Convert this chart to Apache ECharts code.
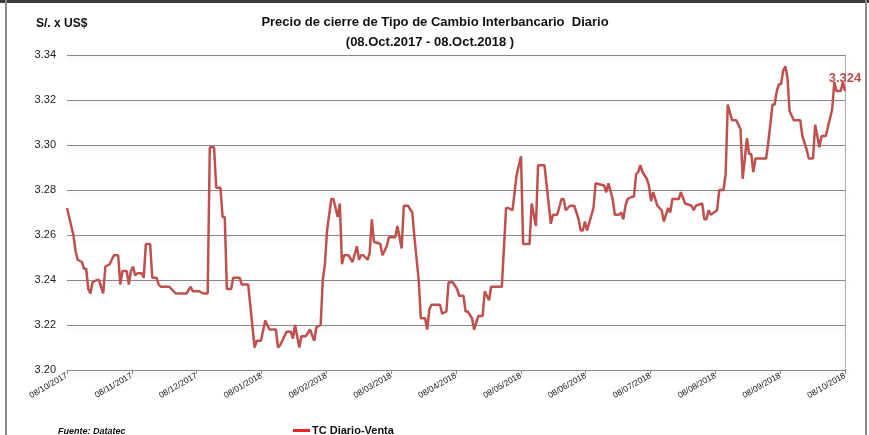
<!DOCTYPE html>
<html><head><meta charset="utf-8">
<script src="https://cdn.jsdelivr.net/npm/echarts@6/dist/echarts.min.js"></script>
<style>html,body{margin:0;padding:0;background:#fff}#c{width:869px;height:435px}</style>
</head><body><div id="c"></div>
<script>
// days elapsed since 08/10/2017
const dias = [
0,2,3,4,5,7,8,9,10,11,
12,14,15,17,18,20,22,24,25,26,
28,29,30,31,32,33,35,36,37,39,
40,42,43,44,48,51,52,56,58,59,
62,64,66,67,69,70,72,73,74,75,
77,78,81,82,85,88,89,91,93,95,
98,99,100,103,105,106,107,109,110,112,
114,116,117,119,120,121,122,124,125,127,
128,129,130,132,134,136,137,138,139,141,
142,143,144,147,148,150,151,154,155,157,
158,160,162,163,165,166,168,169,170,171,
175,176,178,179,181,183,184,186,187,188,
190,191,193,195,196,198,199,203,204,206,
207,209,211,213,214,217,218,220,221,224,
227,228,230,232,233,234,236,238,240,241,
242,243,244,247,248,252,253,254,256,257,
259,260,261,262,263,265,266,267,268,269,
270,272,273,274,275,277,279,280,282,283,
284,287,288,290,293,294,295,298,299,300,
301,302,305,306,308,309,310,312,314,316,
317,319,320,321,322,323,328,329,331,332,
333,334,335,336,337,338,339,341,344,345,
347,348,350,351,353,354,356,359,360,361,
363,364,365
];
const valores = [
3.272,3.264,3.260,3.253,3.249,3.248,3.245,3.245,3.236,3.234,
3.239,3.240,3.240,3.234,3.246,3.247,3.251,3.251,3.238,3.244,
3.244,3.238,3.244,3.246,3.242,3.243,3.243,3.241,3.256,3.256,
3.241,3.241,3.238,3.237,3.237,3.234,3.234,3.234,3.237,3.235,
3.235,3.234,3.234,3.299,3.299,3.281,3.281,3.268,3.268,3.236,
3.236,3.241,3.241,3.238,3.238,3.210,3.213,3.213,3.222,3.218,
3.218,3.210,3.211,3.217,3.217,3.214,3.220,3.210,3.215,3.215,
3.218,3.213,3.219,3.220,3.240,3.247,3.262,3.276,3.276,3.268,
3.274,3.247,3.251,3.251,3.248,3.255,3.249,3.251,3.251,3.249,
3.252,3.267,3.257,3.256,3.251,3.255,3.259,3.259,3.264,3.254,
3.273,3.273,3.270,3.259,3.240,3.223,3.223,3.218,3.227,3.229,
3.229,3.225,3.226,3.239,3.239,3.236,3.233,3.233,3.226,3.226,
3.223,3.218,3.224,3.224,3.235,3.231,3.237,3.237,3.237,3.272,
3.272,3.271,3.287,3.295,3.256,3.256,3.274,3.264,3.291,3.291,
3.265,3.269,3.269,3.276,3.276,3.271,3.273,3.273,3.267,3.262,
3.262,3.266,3.262,3.272,3.283,3.282,3.279,3.283,3.276,3.269,
3.269,3.270,3.267,3.273,3.276,3.277,3.277,3.287,3.288,3.291,
3.288,3.285,3.282,3.275,3.279,3.273,3.271,3.266,3.272,3.270,
3.276,3.276,3.279,3.274,3.273,3.271,3.273,3.274,3.267,3.267,
3.271,3.269,3.271,3.280,3.280,3.287,3.318,3.311,3.311,3.307,
3.285,3.303,3.296,3.296,3.288,3.294,3.294,3.301,3.318,3.318,
3.324,3.327,3.327,3.333,3.335,3.330,3.315,3.311,3.311,3.304,
3.298,3.294,3.294,3.309,3.299,3.304,3.304,3.316,3.328,3.324,
3.324,3.328,3.324
];
const etiquetasX = ['08/10/2017','08/11/2017','08/12/2017','08/01/2018','08/02/2018','08/03/2018','08/04/2018','08/05/2018','08/06/2018','08/07/2018','08/08/2018','08/09/2018','08/10/2018'];
const etiquetaFinal = '3.324';
const nombreSerie = 'TC Diario-Venta';

const FONT = "'Liberation Sans Narrow','Liberation Sans',sans-serif";
const ROJO = '#c0504d';
const puntos = dias.map((d, i) => [d * 12 / 365, valores[i]]);
const ultimo = puntos[puntos.length - 1];

const chart = echarts.init(document.getElementById('c'), null, {renderer: 'canvas'});
chart.setOption({
  animation: false,
  backgroundColor: '#fff',
  grid: {left: 67, right: 24, top: 55, bottom: 65, containLabel: false},
  legend: {
    left: 288, top: 420,
    itemWidth: 17, itemHeight: 3, itemGap: 10,
    data: [{name: nombreSerie, icon: 'rect', itemStyle: {color: '#ee2222'}}],
    textStyle: {fontFamily: FONT, fontWeight: 'bold', fontSize: 11, color: '#111', padding: [0,0,0,-3]}
  },
  xAxis: {
    type: 'value', min: 0, max: 12, interval: 1,
    axisLine: {show: true, lineStyle: {color: '#888', width: 1}},
    axisTick: {show: true, length: 4, lineStyle: {color: '#888'}},
    splitLine: {show: false},
    axisLabel: {formatter: v => etiquetasX[Math.round(v)], rotate: 30, fontSize: 8.5, color: '#222', fontFamily: FONT, margin: 5}
  },
  yAxis: [{
    type: 'value', min: 3.20, max: 3.34, interval: 0.02,
    axisLine: {show: false}, axisTick: {show: false},
    axisLabel: {formatter: v => v.toFixed(2), fontSize: 11, color: '#222', fontFamily: FONT, margin: 11},
    splitLine: {show: true, lineStyle: {color: '#888', width: 1, shadowColor: 'rgba(175,190,220,0.55)', shadowBlur: 5, shadowOffsetY: 3}}
  }, {
    type: 'value', position: 'right', min: 3.20, max: 3.34, interval: 0.02,
    axisLine: {show: true, lineStyle: {color: '#9a9a9a', type: 'dotted', width: 1}},
    axisTick: {show: false}, axisLabel: {show: false}, splitLine: {show: false}
  }],
  series: [{
    name: nombreSerie, type: 'line', data: puntos,
    showSymbol: false, symbol: 'none',
    lineStyle: {color: ROJO, width: 2.5},
    itemStyle: {color: ROJO},
    markPoint: {
      symbol: 'circle', symbolSize: 1, itemStyle: {color: 'rgba(0,0,0,0)'},
      data: [{coord: ultimo}],
      label: {show: true, position: 'top', distance: 6, formatter: etiquetaFinal, color: ROJO, fontWeight: 'bold', fontSize: 13, fontFamily: FONT}
    }
  }],
  graphic: [
    {type: 'rect', shape: {x: 0, y: 0, width: 869, height: 3}, style: {fill: '#3c3c3c'}, silent: true},
    {type: 'rect', shape: {x: 5, y: 0, width: 2, height: 435}, style: {fill: '#8a8a8a'}, silent: true},
    {type: 'rect', shape: {x: 865, y: 0, width: 2, height: 435}, style: {fill: '#8a8a8a'}, silent: true},
    {type: 'text', left: 36, top: 18, style: {text: 'S/. x US$', font: "bold 12px " + FONT, fill: '#111'}},
    {type: 'text', x: 435, y: 22, style: {text: 'Precio de cierre de Tipo de Cambio Interbancario  Diario', font: "bold 13px " + FONT, fill: '#111', textAlign: 'center', textVerticalAlign: 'middle'}},
    {type: 'text', x: 430, y: 42, style: {text: '(08.Oct.2017 - 08.Oct.2018 )', font: "bold 13px " + FONT, fill: '#111', textAlign: 'center', textVerticalAlign: 'middle'}},
    {type: 'text', left: 58, top: 427, style: {text: 'Fuente: Datatec', font: "italic bold 9px " + FONT, fill: '#111'}}
  ]
});
</script>
</body></html>
